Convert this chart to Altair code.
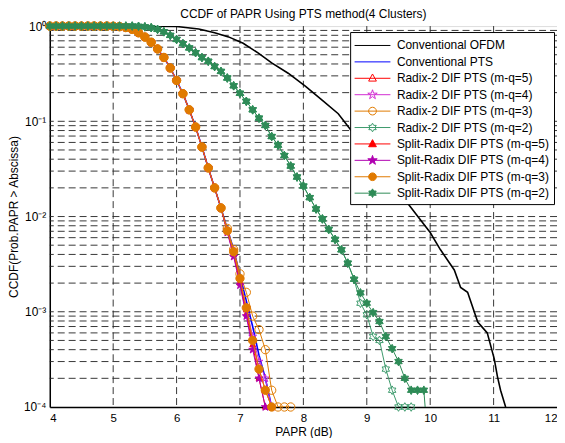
import altair as alt
import pandas as pd

# ---------------- data ----------------
papr_db = [4.0, 4.1, 4.2, 4.3, 4.4, 4.5, 4.6, 4.7, 4.8, 4.9,
           5.0, 5.1, 5.2, 5.3, 5.4, 5.5, 5.6, 5.7, 5.8, 5.9,
           6.0, 6.1, 6.2, 6.3, 6.4, 6.5, 6.6, 6.7, 6.8, 6.9,
           7.0, 7.1, 7.2, 7.3, 7.4, 7.5, 7.6, 7.7, 7.8, 7.9,
           8.0, 8.1, 8.2, 8.3, 8.4, 8.5, 8.6, 8.7, 8.8, 8.9,
           9.0, 9.1, 9.2, 9.3, 9.4, 9.5, 9.6, 9.7, 9.8, 9.9, 10.0]

# Conventional OFDM (no markers)
ofdm_x = [4.0, 5.0, 5.5, 6.0, 6.35, 6.6, 6.82, 7.05, 7.29, 7.5, 7.76, 8.03, 8.3, 8.55,
          8.8, 9.0, 9.2, 9.45, 9.69, 10.0, 10.16, 10.38, 10.48, 10.59, 10.75, 10.82,
          10.9, 11.01, 11.06, 11.11, 11.19]
ofdm_p = [1.0, 1.0, 0.999, 0.99, 0.93, 0.85, 0.77, 0.66, 0.52, 0.41, 0.32, 0.234, 0.166, 0.12,
          0.0733, 0.0493, 0.0331, 0.0204, 0.0126, 0.0068, 0.0045, 0.00275, 0.0018, 0.0016,
          0.00078, 0.00069, 0.0006, 0.00032, 0.00021, 0.00015, 0.0001]

# PTS family, 4.0 .. 6.7 dB (curves coincide there)
pts_head = [1, 1, 1, 1, 1, 1, 1, 1, 1, 1,
            0.995, 0.986, 0.966, 0.923, 0.851, 0.767, 0.676, 0.575, 0.468, 0.363,
            0.269, 0.195, 0.132, 0.0871, 0.0537, 0.0324, 0.0200, 0.0123]
# tails from 6.8 dB
conv_pts_tail = [0.0074, 0.0045, 0.0024, 0.0013, 0.0007, 0.00035, 0.0002, 0.0001]
radix5_tail = [0.0072, 0.0043, 0.0021, 0.00105, 0.0005, 0.00025, 0.00015, 0.0001]
radix4_tail = [0.0072, 0.0044, 0.0022, 0.0011, 0.00055, 0.0003, 0.0002, 0.0001]
radix3_tail = [0.0075, 0.0045, 0.0025, 0.0016, 0.0009, 0.00065, 0.0004, 0.00015, 0.0001, 0.0001, 0.0001]
split5_tail = [0.0069, 0.0040, 0.0020, 0.00095, 0.00045, 0.0002, 0.0001]
split4_tail = [0.0068, 0.0038, 0.0019, 0.0009, 0.0004, 0.0002, 0.0001]
split3_tail = [0.00708, 0.00427, 0.00224, 0.0011, 0.0005, 0.00025, 0.00015, 0.0001]

# m-q=2 curves, 4.0 .. 8.8 dB (coincide there)
mq2_head = [1, 1, 1, 1, 1, 1, 1, 1, 1, 1, 1, 1, 1, 1,
            0.993, 0.982, 0.962, 0.923, 0.871, 0.798, 0.724, 0.653, 0.589, 0.526,
            0.467, 0.427, 0.376, 0.334, 0.285, 0.236, 0.197, 0.162, 0.132, 0.108,
            0.0904, 0.0692, 0.0562, 0.0437, 0.0339, 0.026, 0.0209, 0.0158, 0.012,
            0.00944, 0.00733, 0.00575, 0.00447, 0.00324, 0.00219]
# tails from 8.9 dB
radix2_tail = [0.00123, 0.00093, 0.00055, 0.0005, 0.00025, 0.00015, 0.0001, 0.0001, 0.0001]
split2_tail = [0.00158, 0.00123, 0.00098, 0.00079, 0.00055, 0.00041, 0.0003, 0.0002,
               0.00015, 0.00015, 0.00015, 0.00002]

grid_y = [2e-4, 3e-4, 4e-4, 5e-4, 6e-4, 7e-4, 8e-4, 9e-4, 1e-3,
          2e-3, 3e-3, 4e-3, 5e-3, 6e-3, 7e-3, 8e-3, 9e-3, 1e-2,
          2e-2, 3e-2, 4e-2, 5e-2, 6e-2, 7e-2, 8e-2, 9e-2, 1e-1,
          0.2, 0.3, 0.4, 0.5, 0.6, 0.7, 0.8, 0.9]
grid_x = [5, 6, 7, 8, 9, 10, 11]
x_ticks = [4, 5, 6, 7, 8, 9, 10, 11, 12]
y_ticks = [1e-4, 1e-3, 1e-2, 1e-1, 1]
y_tick_text = ["10⁻⁴", "10⁻³", "10⁻²", "10⁻¹", "10⁰"]

# ---------------- styles ----------------
def star_path(points, r_out, r_in, scale=1.0, rot=-90):
    import math
    pts = []
    for k in range(2 * points):
        r = r_out if k % 2 == 0 else r_in
        a = math.radians(rot + k * 180.0 / points)
        pts.append((scale * r * math.cos(a), scale * r * math.sin(a)))
    return "M" + "L".join(f"{x:.3f},{y:.3f}" for x, y in pts) + "Z"

HEX = star_path(6, 1.0, 0.577)
PENT = star_path(5, 1.0, 0.382)
TRI = "M0,-1L0.9,0.65L-0.9,0.65Z"

def leg_marker(kind, s=0.48):
    if kind is None:
        return ""
    if kind == "circle":
        r = s * 0.9
        return f"M{r:.3f},0A{r:.3f},{r:.3f} 0 1,1 {-r:.3f},0A{r:.3f},{r:.3f} 0 1,1 {r:.3f},0Z"
    if kind == "tri":
        return f"M0,{-s:.3f}L{0.9*s:.3f},{0.65*s:.3f}L{-0.9*s:.3f},{0.65*s:.3f}Z"
    if kind == "star":
        return star_path(5, 1.0, 0.382, scale=s * 1.15)
    if kind == "hex":
        return star_path(6, 1.0, 0.577, scale=s)
    return ""

mark_shape = {"circle": "circle", "tri": TRI, "star": PENT, "hex": HEX}
mark_size = {"circle": 70, "tri": 40, "star": 70, "hex": 75}

series = [
    dict(name="Conventional OFDM", x=ofdm_x, p=ofdm_p, color="#000000", lw=1.6, m=None, filled=False),
    dict(name="Conventional PTS", x=None, p=pts_head + conv_pts_tail, color="#0000FF", lw=1.6, m=None, filled=False),
    dict(name="Radix-2 DIF PTS (m-q=5)", x=None, p=pts_head + radix5_tail, color="#FF0000", lw=1, m="tri", filled=False),
    dict(name="Radix-2 DIF PTS (m-q=4)", x=None, p=pts_head + radix4_tail, color="#D22ED2", lw=1, m="star", filled=False),
    dict(name="Radix-2 DIF PTS (m-q=3)", x=None, p=pts_head + radix3_tail, color="#E07A00", lw=1, m="circle", filled=False),
    dict(name="Radix-2 DIF PTS (m-q=2)", x=None, p=mq2_head + radix2_tail, color="#3C9A6C", lw=1, m="hex", filled=False),
    dict(name="Split-Radix DIF PTS (m-q=5)", x=None, p=pts_head + split5_tail, color="#FF0000", lw=1, m="tri", filled=True),
    dict(name="Split-Radix DIF PTS (m-q=4)", x=None, p=pts_head + split4_tail, color="#B000B0", lw=1, m="star", filled=True),
    dict(name="Split-Radix DIF PTS (m-q=3)", x=None, p=pts_head + split3_tail, color="#E07A00", lw=1, m="circle", filled=True),
    dict(name="Split-Radix DIF PTS (m-q=2)", x=None, p=mq2_head + split2_tail, color="#2E8B57", lw=1, m="hex", filled=True),
]

rows = []
for s in series:
    xs = s["x"] if s["x"] is not None else papr_db[:len(s["p"])]
    for xv, pv in zip(xs, s["p"]):
        rows.append({"series": s["name"], "x": xv, "p": pv})
df = pd.DataFrame(rows)

names = [s["name"] for s in series]
colors = [s["color"] for s in series]
leg_paths = ["M-2,0L2,0" + leg_marker(s["m"]) for s in series]
leg_fill = [(s["color"] if s["filled"] else "white") if s["m"] else "transparent" for s in series]

FONT = "Liberation Sans"

legend = alt.Legend(
    title=None, orient="none", legendX=302, legendY=6,
    fillColor="white", strokeColor="black", padding=4, cornerRadius=0,
    symbolSize=324, symbolStrokeWidth=1, symbolOpacity=1,
    symbolOffset=9, labelOffset=15,
    labelFont=FONT, labelFontSize=12, labelColor="black", labelLimit=400,
    rowPadding=0.5,
)

xscale = alt.Scale(domain=[4, 12], nice=False, zero=False)
yscale = alt.Scale(type="log", domain=[1e-4, 1], nice=False)

label_expr = "{" + ",".join(f"'{i}':'{t}'" for i, t in zip([-4, -3, -2, -1, 0], y_tick_text)) + "}[''+round(log(datum.value)/LN10)]"

x_axis = alt.Axis(values=x_ticks, grid=False, ticks=False, labelPadding=6, titlePadding=2,
                  labelFontSize=11.5, titleFontSize=12, titleFontWeight="normal",
                  labelFont=FONT, titleFont=FONT, domainColor="black", domainWidth=1.5,
                  labelColor="black", titleColor="black")
y_axis = alt.Axis(values=y_ticks, grid=False, ticks=False, labelPadding=4, titlePadding=3,
                  labelExpr=label_expr, labelFontSize=12, titleFontSize=12,
                  titleFontWeight="normal", labelFont=FONT, titleFont=FONT,
                  domainColor="black", domainWidth=1.5, labelColor="black", titleColor="black")

def X(field):
    return alt.X(f"{field}:Q", scale=xscale, axis=x_axis, title="PAPR (dB)")

def Y(field):
    return alt.Y(f"{field}:Q", scale=yscale, axis=y_axis, title="CCDF(Prob.PAPR > Abscissa)")

layers = []
hgrid = alt.Chart(pd.DataFrame({"g": grid_y})).mark_rule(
    color="#222222", strokeWidth=0.9, strokeDash=[7, 4]).encode(y=Y("g"))
vgrid = alt.Chart(pd.DataFrame({"g": grid_x})).mark_rule(
    color="#222222", strokeWidth=0.9, strokeDash=[7, 4]).encode(x=X("g"))
layers += [hgrid, vgrid]

base = alt.Chart(df)
for s in series:
    flt = alt.datum.series == s["name"]
    line = base.transform_filter(flt).mark_line(
        clip=True, strokeWidth=s["lw"], color=s["color"]).encode(
        x=X("x"), y=Y("p"), order="x:Q")
    layers.append(line)
    if s["m"]:
        pts = base.transform_filter(flt).transform_filter(alt.datum.p >= 1e-4).mark_point(
            shape=mark_shape[s["m"]], size=mark_size[s["m"]], filled=s["filled"],
            fill=s["color"] if s["filled"] else "transparent", stroke=s["color"],
            strokeWidth=1, opacity=1,
        ).encode(x=X("x"), y=Y("p"))
        layers.append(pts)

# legend-only layer (no rows pass the filter); it carries the legend scales
leg_layer = base.transform_filter(alt.datum.p > 10).mark_point(
    filled=False, size=324, strokeWidth=1, opacity=1).encode(
    x=X("x"), y=Y("p"),
    color=alt.Color("series:N", scale=alt.Scale(domain=names, range=colors), legend=legend),
    fill=alt.Fill("series:N", scale=alt.Scale(domain=names, range=leg_fill), legend=legend),
    shape=alt.Shape("series:N", scale=alt.Scale(domain=names, range=leg_paths), legend=legend),
)
layers.append(leg_layer)

chart = alt.layer(*layers).properties(
    width=510, height=383,
    title=alt.TitleParams("CCDF of PAPR Using PTS method(4 Clusters)", font=FONT, fontSize=12,
                          fontWeight="normal", color="black", offset=-1, anchor="middle",
                          frame="group"),
    autosize=alt.AutoSizeParams(type="none"),
    padding={"left": 42, "top": 17, "right": 0, "bottom": 30},
).configure_view(stroke="black", strokeWidth=1).configure(background="white")

chart.save("out.html", embed_options={"renderer": "svg", "actions": False})
